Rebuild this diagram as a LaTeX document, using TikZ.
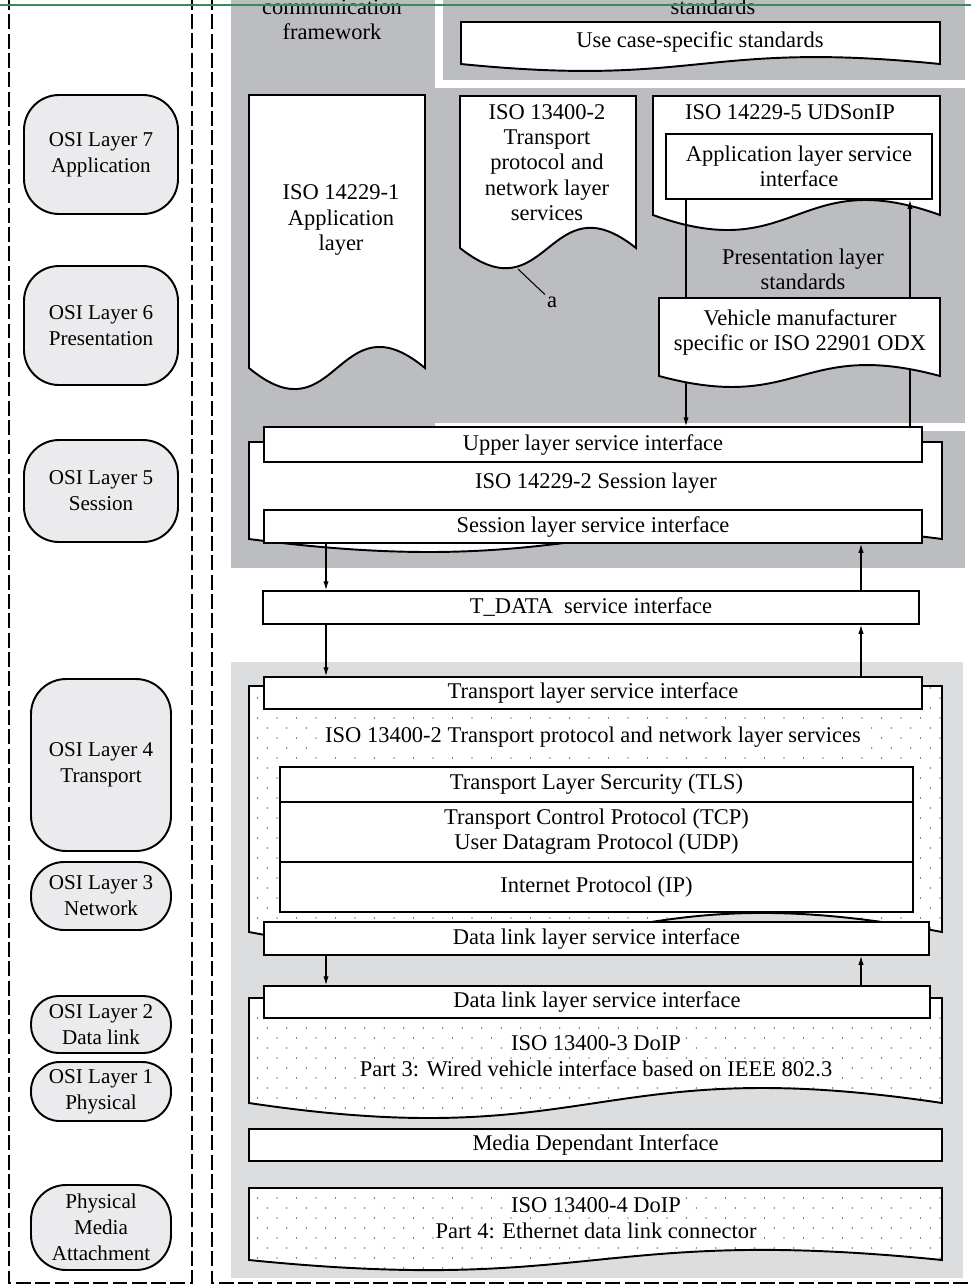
\documentclass[tikz,border=0pt]{standalone}
\usepackage{fontspec}
\setmainfont{Liberation Serif}
\usetikzlibrary{arrows.meta}

\definecolor{darkband}{RGB}{188,189,192}
\definecolor{lightband}{RGB}{220,221,223}
\definecolor{osifill}{RGB}{235,235,237}
\definecolor{rulegreen}{RGB}{60,138,88}

% left x, right x, top y, bottom y, wave
\newcommand{\docpath}[5]{(#1,#3) -- (#1,#4) .. controls ({(#1+#2)/2},{#4+#5}) and ({(#1+#2)/2},{#4-#5}) .. (#2,#4) -- (#2,#3) -- cycle}

\begin{document}
\begin{tikzpicture}[x=0.02cm, y=-0.02cm, font=\fontsize{12.8}{14.3}\selectfont,
  dashframe/.style={line width=1.2pt, dash pattern=on 8.5pt off 2.5pt},
  osi/.style={draw, fill=osifill, line width=1.1pt, align=center, inner sep=0pt, font=\fontsize{12}{14.7}\selectfont},
  docline/.style={line width=1.1pt},
  box/.style={draw, fill=white, line width=1.1pt, align=center, inner sep=0pt},
  lbl/.style={align=center},
  dotlbl/.style={fill=white, inner sep=1pt},
  conn/.style={line width=0.6pt},
  arr/.style={conn, -{Latex[length=5pt, width=3pt]}}]
  \useasboundingbox (0,0) rectangle (971,1286);

  \fill[darkband] (231,0) rectangle (965,568);
  \fill[white] (435,0) rectangle (971,88);
  \fill[darkband] (443,0) rectangle (965,80);
  \fill[white] (435,423) rectangle (971,431);
  \fill[lightband] (231,662) rectangle (963,1278);

  \draw[dashframe] (9,-5) -- (9,1283) -- (192,1283) -- (192,-5);
  \draw[dashframe] (212,-5) -- (212,1283) -- (985,1283);

  \node[osi, rounded corners=0.7cm, minimum width=3.08cm, minimum height=2.38cm] (osi7) at (101,154.5) {OSI Layer 7\\Application};
  \node[osi, rounded corners=0.7cm, minimum width=3.08cm, minimum height=2.38cm] (osi6) at (101,325.5) {OSI Layer 6\\Presentation};
  \node[osi, rounded corners=0.7cm, minimum width=3.08cm, minimum height=2.04cm] (osi5) at (101,491) {OSI Layer 5\\Session};
  \node[osi, rounded corners=0.7cm, minimum width=2.8cm, minimum height=3.44cm] (osi4) at (101,765) {OSI Layer 4\\Transport};
  \node[osi, rounded corners=0.66cm, minimum width=2.8cm, minimum height=1.36cm] (osi3) at (101,896) {OSI Layer 3\\Network};
  \node[osi, rounded corners=0.55cm, minimum width=2.8cm, minimum height=1.14cm] (osi2) at (101,1024.5) {OSI Layer 2\\Data link};
  \node[osi, rounded corners=0.57cm, minimum width=2.8cm, minimum height=1.18cm] (osi1) at (101,1091.5) {OSI Layer 1\\Physical};
  \node[osi, rounded corners=0.7cm, minimum width=2.8cm, minimum height=1.70cm] (pma) at (101,1227.5) {Physical\\Media\\Attachment};

  \node[lbl] (commhead) at (332,20) {communication\\framework};
  \node[lbl] (stdhead) at (713,7) {standards};

  % upper documents
  \draw[docline, fill=white] \docpath{461}{940}{22}{64}{24};
  \node[lbl] (usecase) at (700,42) {Use case-specific standards};
  \draw[docline, fill=white] \docpath{249}{425}{95}{368}{73};
  \node[lbl] (app) at (341,220) {ISO 14229-1\\Application\\layer};
  \draw[docline, fill=white] \docpath{460}{636}{96}{248}{70};
  \node[lbl] (tpdoc) at (547,162.5) {ISO 13400-2\\Transport\\protocol and\\network layer\\services};
  \coordinate (tptrough) at (518,269);
  \node[inner sep=1pt] (alabel) at (552,302) {a};
  \draw[docline, fill=white] \docpath{653}{940}{96}{215}{52};
  \node[lbl] (uds) at (790,112) {ISO 14229-5 UDSonIP};
  \node[box, minimum width=5.32cm, minimum height=1.30cm] (udsif) at (799,166.5) {Application layer service\\interface};
  \node[lbl] (pres) at (803,269) {Presentation layer\\standards};
  \draw[docline, fill=white] \docpath{659}{940}{298}{376}{38};
  \node[lbl] (odx) at (800,332.5) {Vehicle manufacturer\\specific or ISO 22901 ODX};
  \coordinate (vehtop) at (800,298);
  \coordinate (vehbl) at (686,382);
  \coordinate (vehbr) at (910,370);

  % session
  \draw[docline, fill=white] \docpath{249}{942}{442}{539}{45};
  \node[lbl] (sess) at (596,483) {ISO 14229-2 Session layer};
  \node[box, minimum width=13.16cm, minimum height=0.70cm] (upper) at (593,444.5) {Upper layer service interface};
  \node[box, minimum width=13.16cm, minimum height=0.66cm] (sessif) at (593,526.5) {Session layer service interface};
  \node[box, minimum width=13.12cm, minimum height=0.66cm] (tdata) at (591,607.5) {T\_DATA\ \ service interface};

  % transport
  \fill[white] \docpath{249}{942}{686}{932}{66};
  \begin{scope}
    \clip \docpath{249}{942}{686}{932}{66};
    \foreach \yy in {678,698,...,938}
      \foreach \xx in {238,257.5,...,950}
        \fill (\xx,\yy) circle (0.4pt) (\xx+9.75,\yy+10) circle (0.4pt);
  \end{scope}
  \draw[docline] \docpath{249}{942}{686}{932}{66};
  \node[box, minimum width=13.16cm, minimum height=0.64cm] (transif) at (593,693) {Transport layer service interface};
  \node[dotlbl] (tplabel) at (593,737) {ISO 13400-2 Transport protocol and network layer services};
  \node[box, minimum width=12.66cm, minimum height=0.70cm] (tls) at (596.5,784.5) {Transport Layer Sercurity (TLS)};
  \node[box, minimum width=12.66cm, minimum height=1.20cm] (tcp) at (596.5,832) {Transport Control Protocol (TCP)\\User Datagram Protocol (UDP)};
  \node[box, minimum width=12.66cm, minimum height=1.00cm] (ip) at (596.5,887) {Internet Protocol (IP)};
  \node[box, minimum width=13.30cm, minimum height=0.66cm] (dlup) at (596.5,938.5) {Data link layer service interface};

  % DoIP part 3
  \fill[white] \docpath{249}{942}{998}{1103}{52};
  \begin{scope}
    \clip \docpath{249}{942}{998}{1103}{52};
    \foreach \yy in {998,1018,...,1118}
      \foreach \xx in {238,257.5,...,950}
        \fill (\xx,\yy) circle (0.4pt) (\xx+9.75,\yy+10) circle (0.4pt);
  \end{scope}
  \draw[docline] \docpath{249}{942}{998}{1103}{52};
  \node[box, minimum width=13.32cm, minimum height=0.64cm] (dldown) at (597,1002) {Data link layer service interface};
  \node[dotlbl] (doip3a) at (596,1043) {ISO 13400-3 DoIP};
  \node[dotlbl] (doip3b) at (596,1069) {Part 3: Wired vehicle interface based on IEEE 802.3};

  \node[box, minimum width=13.86cm, minimum height=0.64cm] (mdi) at (595.5,1145) {Media Dependant Interface};

  % DoIP part 4
  \fill[white] \docpath{249}{942}{1188}{1260}{35};
  \begin{scope}
    \clip \docpath{249}{942}{1188}{1260}{35};
    \foreach \yy in {1178,1198,...,1278}
      \foreach \xx in {238,257.5,...,950}
        \fill (\xx,\yy) circle (0.4pt) (\xx+9.75,\yy+10) circle (0.4pt);
  \end{scope}
  \draw[docline] \docpath{249}{942}{1188}{1260}{35};
  \node[dotlbl] (doip4a) at (596,1205) {ISO 13400-4 DoIP};
  \node[dotlbl] (doip4b) at (596,1231) {Part 4: Ethernet data link connector};

  % service access lines
  \coordinate (ul) at (686,0);
  \coordinate (ur) at (910,0);
  \coordinate (sl) at (326,0);
  \coordinate (sr) at (861,0);
  \draw[conn] (tptrough) -- (alabel.north west);
  \draw[conn] (udsif.south -| ul) -- (vehtop -| ul);
  \draw[arr] (vehbl) -- (upper.north -| ul);
  \draw[conn] (upper.north -| ur) -- (vehbr);
  \draw[arr] (vehtop -| ur) -- (udsif.south -| ur);
  \draw[arr] (sessif.south -| sl) -- (tdata.north -| sl);
  \draw[arr] (tdata.north -| sr) -- (sessif.south -| sr);
  \draw[arr] (tdata.south -| sl) -- (transif.north -| sl);
  \draw[arr] (transif.north -| sr) -- (tdata.south -| sr);
  \draw[arr] (dlup.south -| sl) -- (dldown.north -| sl);
  \draw[arr] (dldown.north -| sr) -- (dlup.south -| sr);

  \draw[rulegreen, line width=1.4pt] (0,5) -- (971,5);
\end{tikzpicture}
\end{document}
